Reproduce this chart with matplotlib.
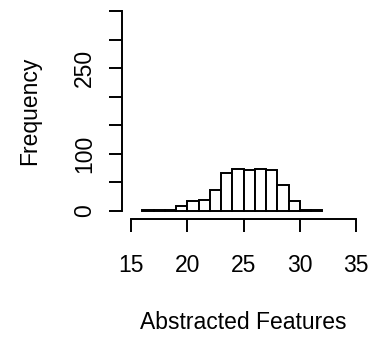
import matplotlib
matplotlib.use("Agg")
import matplotlib.pyplot as plt
import numpy as np

plt.rcParams['font.family'] = ['Liberation Sans', 'DejaVu Sans']

# histogram of abstracted features, unit-width bins
bin_edges = np.arange(16, 33)
counts = [1, 1, 1, 9, 18, 20, 36, 66, 74, 71, 73, 71, 45, 18, 2, 1]

x_ticks = [15, 20, 25, 30, 35]
y_ticks = [0, 50, 100, 150, 200, 250, 300, 350]
y_labels = ['0', '', '100', '', '', '250', '', '']

fs = 16.5

fig = plt.figure(figsize=(3.75, 3.39), dpi=100)
ax = fig.add_axes([122 / 375, 1 - 219 / 339, 243 / 375, 216 / 339])

ax.bar(bin_edges[:-1], counts, width=np.diff(bin_edges), align='edge',
       facecolor='white', edgecolor='black', linewidth=1.4)

ax.set_xlim(15 - 0.8, 35 + 0.8)
ax.set_ylim(-14, 364)
ax.spines['top'].set_visible(False)
ax.spines['right'].set_visible(False)
ax.spines['left'].set_bounds(0, 350)
ax.spines['bottom'].set_bounds(15, 35)
for s in ('left', 'bottom'):
    ax.spines[s].set_linewidth(1.4)

ax.set_xticks(x_ticks)
ax.set_yticks(y_ticks)
ax.set_yticklabels(y_labels, rotation=90, va='center')
ax.tick_params(axis='x', length=9.5, width=1.4, pad=16, labelsize=fs)
ax.tick_params(axis='y', length=9.5, width=1.4, pad=9, labelsize=fs)

ax.set_xlabel('Abstracted Features', fontsize=fs)
ax.xaxis.set_label_coords(0.5, -0.481)
ax.xaxis.label.set_va('center')
ax.set_ylabel('Frequency', fontsize=fs)
ax.yaxis.set_label_coords(-0.379, 0.5)
ax.yaxis.label.set_va('center')

fig.savefig('out.png', dpi=100)
